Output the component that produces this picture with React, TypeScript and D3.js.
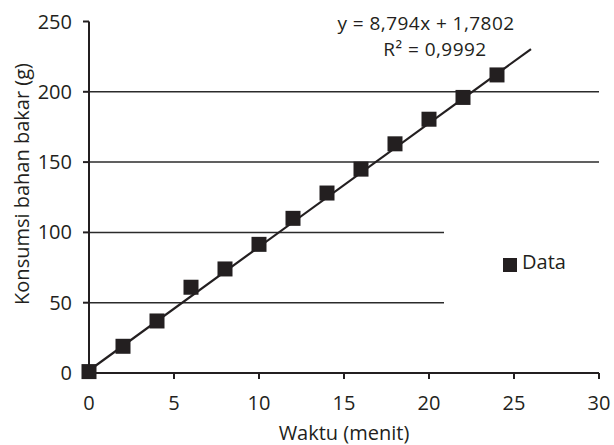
import React from "react";
import * as d3 from "d3";

const timeMin = [0, 2, 4, 6, 8, 10, 12, 14, 16, 18, 20, 22, 24];
const fuelG = [1, 19, 37, 61, 74, 91.5, 110, 128, 145, 163, 180.5, 196, 212];
const xTicks = [0, 5, 10, 15, 20, 25, 30];
const yTicks = [0, 50, 100, 150, 200, 250];
const gridFull = [150, 200];
const gridShort = [50, 100];
const slope = 8.794;
const intercept = 1.7802;
const trendRange = [0, 26];
const eqLine1 = "y = 8,794x + 1,7802";
const eqLine2 = "R² = 0,9992";
const xTitle = "Waktu (menit)";
const yTitle = "Konsumsi bahan bakar (g)";
const legendLabel = "Data";

const W = 614;
const H = 445;
const FONT = "'Open Sans', sans-serif";
const INK = "#231F20";

export default function App() {
  const x = d3.scaleLinear().domain([0, 30]).range([89, 599]);
  const y = d3.scaleLinear().domain([0, 250]).range([373, 21.5]);
  const line = d3
    .line<number>()
    .x((d) => x(d))
    .y((d) => y(slope * d + intercept));
  const sq = 15;
  const shortEnd = 444;
  const fs = 20;

  return (
    <svg
      width={W}
      height={H}
      style={{ position: "absolute", left: 0, top: 0, background: "#fff" }}
      fontFamily={FONT}
    >
      <rect x={0} y={0} width={W} height={H} fill="#fff" />
      {gridFull.map((v) => (
        <line key={"gf" + v} x1={x(0)} x2={x(30)} y1={y(v)} y2={y(v)} stroke="#2b2b2b" strokeWidth={1.5} />
      ))}
      {gridShort.map((v) => (
        <line key={"gs" + v} x1={x(0)} x2={shortEnd} y1={y(v)} y2={y(v)} stroke="#2b2b2b" strokeWidth={1.5} />
      ))}
      {/* axes */}
      <line x1={x(0)} x2={x(0)} y1={y(0)} y2={y(250)} stroke={INK} strokeWidth={2} />
      <line x1={x(0)} x2={x(30)} y1={y(0)} y2={y(0)} stroke={INK} strokeWidth={2} />
      {yTicks.map((v) => (
        <g key={"yt" + v}>
          <line x1={x(0) - 6} x2={x(0)} y1={y(v)} y2={y(v)} stroke={INK} strokeWidth={2} />
          <text x={72} y={y(v)} dy="0.35em" textAnchor="end" fontSize={fs} fill={INK}>
            {v}
          </text>
        </g>
      ))}
      {xTicks.map((v) => (
        <g key={"xt" + v}>
          <line x1={x(v)} x2={x(v)} y1={y(0)} y2={y(0) + 6} stroke={INK} strokeWidth={2} />
          <text x={x(v)} y={410} textAnchor="middle" fontSize={fs} fill={INK}>
            {v}
          </text>
        </g>
      ))}
      {/* trendline */}
      <path d={line(trendRange) || ""} stroke={INK} strokeWidth={2.2} fill="none" />
      {/* points */}
      {timeMin.map((t, i) => (
        <rect key={"p" + i} x={x(t) - sq / 2} y={y(fuelG[i]) - sq / 2} width={sq} height={sq} fill={INK} />
      ))}
      {/* equation */}
      <text x={426} y={30} textAnchor="middle" fontSize={19} letterSpacing={0.45} fill={INK}>
        {eqLine1}
      </text>
      <text x={435} y={56} textAnchor="middle" fontSize={19} letterSpacing={0.45} fill={INK}>
        {eqLine2}
      </text>
      {/* legend */}
      <rect x={503} y={258} width={14} height={14} fill={INK} />
      <text x={522} y={269} fontSize={fs} fill={INK}>
        {legendLabel}
      </text>
      {/* axis titles */}
      <text x={344} y={440} textAnchor="middle" fontSize={fs} fill={INK}>
        {xTitle}
      </text>
      <text
        transform={`translate(29,184) rotate(-90)`}
        textAnchor="middle"
        fontSize={fs}
        fill={INK}
      >
        {yTitle}
      </text>
    </svg>
  );
}
